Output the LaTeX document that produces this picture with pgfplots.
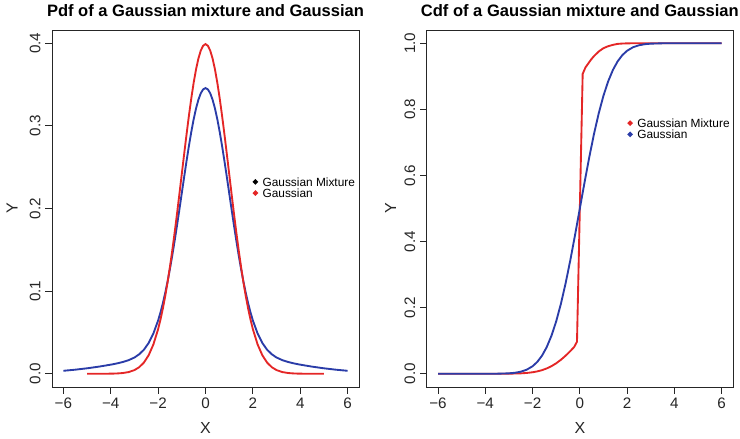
\documentclass[border=0pt]{standalone}
\usepackage{pgfplots}
\pgfplotsset{compat=1.18}
\usepackage{fontspec}
\setmainfont{Liberation Sans}
\definecolor{rred}{RGB}{228,38,38}
\definecolor{rblue}{RGB}{42,60,168}

\pgfplotsset{
  rpanel/.style={
    scale only axis, height=267.75pt,
    xmin=-6.48, xmax=6.48,
    axis line style={black!85, line width=0.7pt},
    tick align=outside, xtick pos=bottom, ytick pos=left,
    major tick length=5pt,
    tick style={black!85, line width=0.6pt},
    xtick={-6,-4,-2,0,2,4,6},
    xticklabels={−6,−4,−2,0,2,4,6},
    ticklabel style={font=\fontsize{11.4}{13}\selectfont, text=black!85},
    yticklabel style={rotate=90, anchor=south},
    xlabel={X}, ylabel={Y},
    label style={font=\fontsize{12}{14}\selectfont, text=black!85},
    xlabel style={at={(axis description cs:0.5,-0.115)}, anchor=center},
    title style={font=\bfseries\fontsize{12.4}{14}\selectfont,
      at={(axis description cs:0.5,1.031)}, anchor=center},
    legend style={draw=none, fill=none, inner sep=0pt, outer sep=0pt,
      anchor=north west, font=\fontsize{8.9}{10}\selectfont,
      nodes={inner sep=1pt, text height=6.4pt, text depth=0pt},
      row sep=0pt, column sep=2.5pt},
    legend cell align=left,
    legend image code/.code={\fill[#1] (0pt,0pt) circle (1.2pt);},
    every axis plot/.append style={line width=1.4pt, no markers},
  }
}

\begin{document}
\begin{tikzpicture}
\path[use as bounding box] (0,0) rectangle (555pt,329.25pt);

% ---- left: pdf ----
\begin{axis}[rpanel,
    at={(39pt,39pt)}, anchor=south west, width=230.25pt,
    ymin=-0.016, ymax=0.416,
    ytick={0,0.1,0.2,0.3,0.4}, yticklabels={0.0,0.1,0.2,0.3,0.4},
    ylabel style={at={(axis description cs:-0.130,0.5)}, anchor=center},
    title={Pdf of a Gaussian mixture and Gaussian},
    legend style={at={(axis cs:2.0,0.239)}},
  ]
  \addlegendimage{black}
  \addlegendentry{Gaussian Mixture}
  \addlegendimage{rred}
  \addlegendentry{Gaussian}
  % mixture pdf
  \addplot[rblue, forget plot] coordinates {
    (-6,0.00360) (-5.5,0.00495) (-5,0.00663) (-4.5,0.00864) (-4,0.01104)
    (-3.75,0.01246) (-3.5,0.01417) (-3.25,0.01641) (-3,0.01967)
    (-2.8,0.02355) (-2.6,0.02913) (-2.4,0.03722) (-2.2,0.04871)
    (-2.0,0.06449) (-1.9,0.07426) (-1.8,0.08537) (-1.7,0.09789)
    (-1.6,0.11181) (-1.5,0.12709) (-1.4,0.14363) (-1.3,0.16131)
    (-1.2,0.17990) (-1.1,0.19915) (-1.0,0.21874) (-0.9,0.23830)
    (-0.8,0.25742) (-0.7,0.27568) (-0.6,0.29265) (-0.5,0.30789)
    (-0.4,0.32098) (-0.3,0.33157) (-0.2,0.33937) (-0.1,0.34414)
    (0,0.34575)
    (0.1,0.34414) (0.2,0.33937) (0.3,0.33157) (0.4,0.32098)
    (0.5,0.30789) (0.6,0.29265) (0.7,0.27568) (0.8,0.25742)
    (0.9,0.23830) (1.0,0.21874) (1.1,0.19915) (1.2,0.17990)
    (1.3,0.16131) (1.4,0.14363) (1.5,0.12709) (1.6,0.11181)
    (1.7,0.09789) (1.8,0.08537) (1.9,0.07426) (2.0,0.06449)
    (2.2,0.04871) (2.4,0.03722) (2.6,0.02913) (2.8,0.02355)
    (3,0.01967) (3.25,0.01641) (3.5,0.01417) (3.75,0.01246)
    (4,0.01104) (4.5,0.00864) (5,0.00663) (5.5,0.00495) (6,0.00360)
  };
  % gaussian pdf
  \addplot[rred, forget plot] coordinates {
    (-5,0.0000015) (-4.5,0.000016) (-4,0.00013) (-3.75,0.00035)
    (-3.5,0.00087) (-3.25,0.00203) (-3,0.00443) (-2.8,0.00792)
    (-2.6,0.01358) (-2.4,0.02239) (-2.2,0.03547) (-2.0,0.05399)
    (-1.9,0.06562) (-1.8,0.07895) (-1.7,0.09405) (-1.6,0.11092)
    (-1.5,0.12952) (-1.4,0.14973) (-1.3,0.17137) (-1.2,0.19419)
    (-1.1,0.21785) (-1.0,0.24197) (-0.9,0.26609) (-0.8,0.28969)
    (-0.7,0.31225) (-0.6,0.33322) (-0.5,0.35207) (-0.4,0.36827)
    (-0.3,0.38139) (-0.2,0.39104) (-0.1,0.39695) (0,0.39894)
    (0.1,0.39695) (0.2,0.39104) (0.3,0.38139) (0.4,0.36827)
    (0.5,0.35207) (0.6,0.33322) (0.7,0.31225) (0.8,0.28969)
    (0.9,0.26609) (1.0,0.24197) (1.1,0.21785) (1.2,0.19419)
    (1.3,0.17137) (1.4,0.14973) (1.5,0.12952) (1.6,0.11092)
    (1.7,0.09405) (1.8,0.07895) (1.9,0.06562) (2.0,0.05399)
    (2.2,0.03547) (2.4,0.02239) (2.6,0.01358) (2.8,0.00792)
    (3,0.00443) (3.25,0.00203) (3.5,0.00087) (3.75,0.00035)
    (4,0.00013) (4.5,0.000016) (5,0.0000015)
  };
\end{axis}

% ---- right: cdf ----
\begin{axis}[rpanel,
    at={(320pt,39pt)}, anchor=south west, width=229.75pt,
    ymin=-0.04, ymax=1.04,
    ytick={0,0.2,0.4,0.6,0.8,1}, yticklabels={0.0,0.2,0.4,0.6,0.8,1.0},
    ylabel style={at={(axis description cs:-0.1175,0.5)}, anchor=center},
    title={Cdf of a Gaussian mixture and Gaussian},
    legend style={at={(axis cs:2.02,0.775)}},
  ]
  \addlegendimage{rred}
  \addlegendentry{Gaussian Mixture}
  \addlegendimage{rblue}
  \addlegendentry{Gaussian}
  % mixture cdf
  \addplot[rred, forget plot] coordinates {
    (-6,0) (-5,0.0000001) (-4,0.000006) (-3.5,0.000047) (-3,0.00027)
    (-2.5,0.00124) (-2.25,0.00244) (-2,0.00455) (-1.8,0.00719)
    (-1.6,0.01096) (-1.4,0.01615) (-1.2,0.02301) (-1.0,0.03173)
    (-0.8,0.04237) (-0.6,0.05485) (-0.48,0.06312) (-0.36,0.07188)
    (-0.24,0.08103) (-0.12,0.09705) (0,0.5) (0.12,0.907) (0.24,0.927)
    (0.36,0.939) (0.48,0.951) (0.6,0.961) (0.8,0.975) (1.0,0.985)
    (1.2,0.991) (1.4,0.995) (1.6,0.998) (1.8,0.999) (2.0,0.9996)
    (2.5,1) (3,1) (4,1) (5,1) (6,1)
  };
  % gaussian cdf
  \addplot[rblue, forget plot] coordinates {
    (-6,0) (-5,0.0000003) (-4,0.00003) (-3.5,0.00023) (-3,0.00135)
    (-2.75,0.00298) (-2.5,0.00621) (-2.25,0.01222) (-2,0.02275)
    (-1.8,0.03593) (-1.6,0.05480) (-1.4,0.08076) (-1.2,0.11507)
    (-1.0,0.15866) (-0.8,0.21186) (-0.6,0.27425) (-0.4,0.34458)
    (-0.2,0.42074) (0,0.5) (0.2,0.57926) (0.4,0.65542) (0.6,0.72575)
    (0.8,0.78814) (1.0,0.84134) (1.2,0.88493) (1.4,0.91924)
    (1.6,0.94520) (1.8,0.96407) (2.0,0.97725) (2.25,0.98778)
    (2.5,0.99379) (2.75,0.99702) (3,0.99865) (3.5,0.99977)
    (4,0.99997) (5,1) (6,1)
  };
\end{axis}
\end{tikzpicture}
\end{document}
